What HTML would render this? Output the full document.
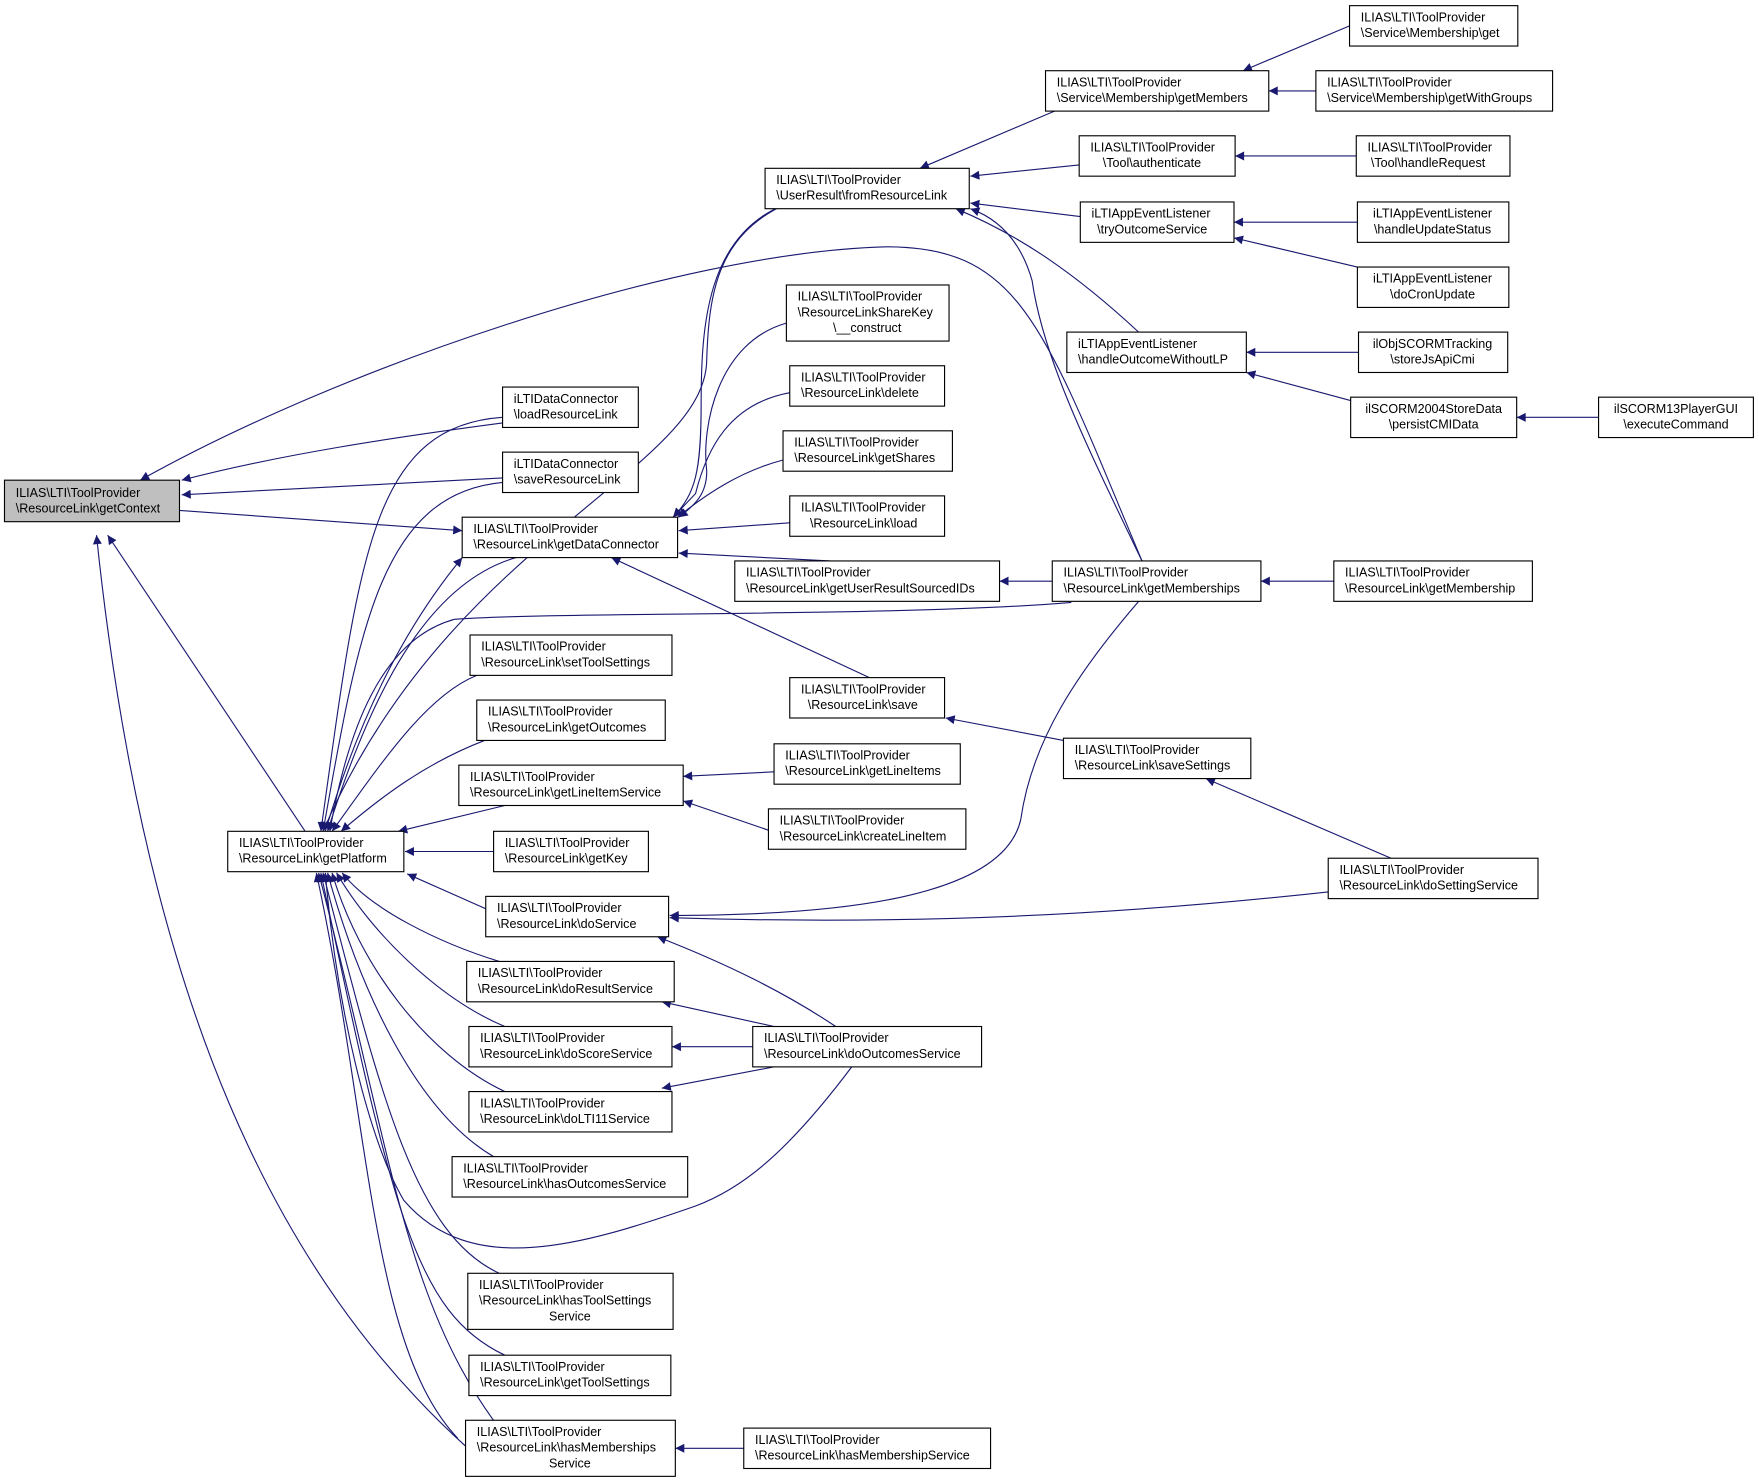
<!DOCTYPE html>
<html><head><meta charset="utf-8"><style>
html,body{margin:0;padding:0;background:#fff;}
svg{display:block}
text{font-family:"Liberation Sans",sans-serif;font-size:11.2px;fill:#000}
.b{fill:#fff;stroke:#000;stroke-width:1}
.e{fill:none;stroke:#191970;stroke-width:1;marker-end:url(#a)}
</style></head><body>
<svg width="1759" height="1482" viewBox="0 0 1568 1321" xmlns="http://www.w3.org/2000/svg">
<defs><marker id="a" viewBox="0 0 10 10" refX="10" refY="5" markerWidth="11" markerHeight="8" markerUnits="userSpaceOnUse" orient="auto"><path d="M0,0L10,5L0,10z" fill="#191970"/></marker></defs>
<!-- edges -->
<g>
<path class="e" d="M1018,500 C930,290 910,220 790,220 C600,225 300,330 125,428"/>
<path class="e" d="M448,377 C350,390 250,405 162,428"/>
<path class="e" d="M448,426 L162,441"/>
<path class="e" d="M160,455 L412,473"/>
<path class="e" d="M272,741 L96,477"/>
<path class="e" d="M416,1290 C250,1140 130,900 86,477"/>
<path class="e" d="M448,372 C330,380 320,500 286,741"/>
<path class="e" d="M448,430 C340,440 320,560 288,741"/>
<path class="e" d="M290,741 C320,640 360,560 412,497"/>
<path class="e" d="M460,497 C380,520 330,620 292,741"/>
<path class="e" d="M955,537 C800,550 500,545 405,552 C340,570 310,650 294,741"/>
<path class="e" d="M425,602 C380,620 340,680 296,741"/>
<path class="e" d="M432,660 C380,680 340,710 304,741"/>
<path class="e" d="M450,718 L355,741"/>
<path class="e" d="M700,182 C640,210 632,260 630,320 C630,420 400,480 288,741"/>
<path class="e" d="M440,759 L361,759"/>
<path class="e" d="M433,810 L363,779"/>
<path class="e" d="M445,857 C390,840 330,810 305,778"/>
<path class="e" d="M450,915 C390,890 330,830 300,778"/>
<path class="e" d="M450,973 C380,940 320,860 296,778"/>
<path class="e" d="M440,1031 C370,990 320,880 292,778"/>
<path class="e" d="M760,950 C700,1030 660,1060 620,1075 C520,1110 420,1140 360,1070 C330,1020 300,900 290,778"/>
<path class="e" d="M445,1135 C370,1100 340,980 288,778"/>
<path class="e" d="M450,1208 C370,1170 350,1080 286,778"/>
<path class="e" d="M456,1287 C360,1170 350,1030 284,778"/>
<path class="e" d="M408,1282 C330,1200 330,1000 282,778"/>
<!-- DC incoming -->
<path class="e" d="M700,182 C630,210 625,290 625,360 C625,420 620,440 600,461"/>
<path class="e" d="M701,288 C640,305 625,380 630,420 C630,440 620,450 605,461"/>
<path class="e" d="M704,350 C650,360 630,400 620,440 L600,461"/>
<path class="e" d="M698,410 C660,420 630,440 604,461"/>
<path class="e" d="M704,466 L605,473"/>
<path class="e" d="M740,500 L605,493"/>
<path class="e" d="M775,604 L545,497"/>
<!-- fromResourceLink incoming -->
<path class="e" d="M940,99 L820,150"/>
<path class="e" d="M962,147 L865,157"/>
<path class="e" d="M963,193 L865,181"/>
<path class="e" d="M1015,296 C960,245 910,210 852,186"/>
<path class="e" d="M1018,500 C970,400 930,320 920,250 C910,215 890,195 865,186"/>
<path class="e" d="M1203,23 L1108,63"/>
<path class="e" d="M1173,81 L1131,81"/>
<path class="e" d="M1209,139 L1101,139"/>
<path class="e" d="M1210,198 L1100,198"/>
<path class="e" d="M1210,238 L1100,212"/>
<path class="e" d="M1211,314 L1111,314"/>
<path class="e" d="M1204,357 L1111,332"/>
<path class="e" d="M1425,372 L1352,372"/>
<path class="e" d="M938,518 L891,518"/>
<path class="e" d="M1189,518 L1124,518"/>
<path class="e" d="M1015,536 C960,600 920,660 910,730 C895,800 750,816 597,816"/>
<path class="e" d="M1184,795 C1000,815 820,825 597,818"/>
<path class="e" d="M948,660 L843,640"/>
<path class="e" d="M1240,765 L1075,694"/>
<path class="e" d="M690,688 L609,692"/>
<path class="e" d="M685,740 L609,714"/>
<path class="e" d="M745,915 C700,885 650,860 586,835"/>
<path class="e" d="M690,915 L590,893"/>
<path class="e" d="M671,933 L599,933"/>
<path class="e" d="M690,951 L590,970"/>
<path class="e" d="M663,1291 L602,1291"/>
</g>
<!-- nodes -->
<g>
<rect x="4" y="428" width="156" height="37" fill="#bfbfbf" stroke="#000"/>
<text x="14" y="443">ILIAS\LTI\ToolProvider</text><text x="14" y="457">\ResourceLink\getContext</text>

<rect class="b" x="203" y="741" width="157" height="36"/>
<text x="213" y="755">ILIAS\LTI\ToolProvider</text><text x="213" y="769">\ResourceLink\getPlatform</text>

<rect class="b" x="448" y="345" width="121" height="36"/>
<text x="458" y="359">iLTIDataConnector</text><text x="458" y="373">\loadResourceLink</text>
<rect class="b" x="448" y="403" width="121" height="36"/>
<text x="458" y="417">iLTIDataConnector</text><text x="458" y="431">\saveResourceLink</text>
<rect class="b" x="412" y="461" width="192" height="36"/>
<text x="422" y="475">ILIAS\LTI\ToolProvider</text><text x="422" y="489">\ResourceLink\getDataConnector</text>
<rect class="b" x="419" y="566" width="180" height="36"/>
<text x="429" y="580">ILIAS\LTI\ToolProvider</text><text x="429" y="594">\ResourceLink\setToolSettings</text>
<rect class="b" x="425" y="624" width="168" height="36"/>
<text x="435" y="638">ILIAS\LTI\ToolProvider</text><text x="435" y="652">\ResourceLink\getOutcomes</text>
<rect class="b" x="409" y="682" width="200" height="36"/>
<text x="419" y="696">ILIAS\LTI\ToolProvider</text><text x="419" y="710">\ResourceLink\getLineItemService</text>
<rect class="b" x="440" y="741" width="138" height="36"/>
<text x="450" y="755">ILIAS\LTI\ToolProvider</text><text x="450" y="769">\ResourceLink\getKey</text>
<rect class="b" x="433" y="799" width="163" height="36"/>
<text x="443" y="813">ILIAS\LTI\ToolProvider</text><text x="443" y="827">\ResourceLink\doService</text>
<rect class="b" x="416" y="857" width="185" height="36"/>
<text x="426" y="871">ILIAS\LTI\ToolProvider</text><text x="426" y="885">\ResourceLink\doResultService</text>
<rect class="b" x="418" y="915" width="181" height="36"/>
<text x="428" y="929">ILIAS\LTI\ToolProvider</text><text x="428" y="943">\ResourceLink\doScoreService</text>
<rect class="b" x="418" y="973" width="181" height="36"/>
<text x="428" y="987">ILIAS\LTI\ToolProvider</text><text x="428" y="1001">\ResourceLink\doLTI11Service</text>
<rect class="b" x="403" y="1031" width="210" height="36"/>
<text x="413" y="1045">ILIAS\LTI\ToolProvider</text><text x="413" y="1059">\ResourceLink\hasOutcomesService</text>
<rect class="b" x="417" y="1135" width="183" height="50"/>
<text x="427" y="1149">ILIAS\LTI\ToolProvider</text><text x="427" y="1163">\ResourceLink\hasToolSettings</text><text x="508" y="1177" text-anchor="middle">Service</text>
<rect class="b" x="418" y="1208" width="180" height="36"/>
<text x="428" y="1222">ILIAS\LTI\ToolProvider</text><text x="428" y="1236">\ResourceLink\getToolSettings</text>
<rect class="b" x="415" y="1266" width="187" height="50"/>
<text x="425" y="1280">ILIAS\LTI\ToolProvider</text><text x="425" y="1294">\ResourceLink\hasMemberships</text><text x="508" y="1308" text-anchor="middle">Service</text>

<rect class="b" x="682" y="150" width="182" height="36"/>
<text x="692" y="164">ILIAS\LTI\ToolProvider</text><text x="692" y="178">\UserResult\fromResourceLink</text>
<rect class="b" x="701" y="254" width="145" height="50"/>
<text x="711" y="268">ILIAS\LTI\ToolProvider</text><text x="711" y="282">\ResourceLinkShareKey</text><text x="773" y="296" text-anchor="middle">\__construct</text>
<rect class="b" x="704" y="326" width="138" height="36"/>
<text x="714" y="340">ILIAS\LTI\ToolProvider</text><text x="714" y="354">\ResourceLink\delete</text>
<rect class="b" x="698" y="384" width="151" height="36"/>
<text x="708" y="398">ILIAS\LTI\ToolProvider</text><text x="708" y="412">\ResourceLink\getShares</text>
<rect class="b" x="704" y="442" width="138" height="36"/>
<text x="714" y="456">ILIAS\LTI\ToolProvider</text><text x="722" y="470">\ResourceLink\load</text>
<rect class="b" x="655" y="500" width="236" height="36"/>
<text x="665" y="514">ILIAS\LTI\ToolProvider</text><text x="665" y="528">\ResourceLink\getUserResultSourcedIDs</text>
<rect class="b" x="704" y="604" width="138" height="36"/>
<text x="714" y="618">ILIAS\LTI\ToolProvider</text><text x="720" y="632">\ResourceLink\save</text>
<rect class="b" x="690" y="663" width="166" height="36"/>
<text x="700" y="677">ILIAS\LTI\ToolProvider</text><text x="700" y="691">\ResourceLink\getLineItems</text>
<rect class="b" x="685" y="721" width="176" height="36"/>
<text x="695" y="735">ILIAS\LTI\ToolProvider</text><text x="695" y="749">\ResourceLink\createLineItem</text>
<rect class="b" x="671" y="915" width="204" height="36"/>
<text x="681" y="929">ILIAS\LTI\ToolProvider</text><text x="681" y="943">\ResourceLink\doOutcomesService</text>
<rect class="b" x="663" y="1273" width="220" height="36"/>
<text x="673" y="1287">ILIAS\LTI\ToolProvider</text><text x="673" y="1301">\ResourceLink\hasMembershipService</text>

<rect class="b" x="932" y="63" width="199" height="36"/>
<text x="942" y="77">ILIAS\LTI\ToolProvider</text><text x="942" y="91">\Service\Membership\getMembers</text>
<rect class="b" x="962" y="121" width="139" height="36"/>
<text x="972" y="135">ILIAS\LTI\ToolProvider</text><text x="983" y="149">\Tool\authenticate</text>
<rect class="b" x="963" y="180" width="137" height="36"/>
<text x="973" y="194">iLTIAppEventListener</text><text x="978" y="208">\tryOutcomeService</text>
<rect class="b" x="951" y="296" width="160" height="36"/>
<text x="961" y="310">iLTIAppEventListener</text><text x="961" y="324">\handleOutcomeWithoutLP</text>
<rect class="b" x="938" y="500" width="186" height="36"/>
<text x="948" y="514">ILIAS\LTI\ToolProvider</text><text x="948" y="528">\ResourceLink\getMemberships</text>
<rect class="b" x="948" y="658" width="167" height="36"/>
<text x="958" y="672">ILIAS\LTI\ToolProvider</text><text x="958" y="686">\ResourceLink\saveSettings</text>

<rect class="b" x="1203" y="5" width="150" height="36"/>
<text x="1213" y="19">ILIAS\LTI\ToolProvider</text><text x="1213" y="33">\Service\Membership\get</text>
<rect class="b" x="1173" y="63" width="211" height="36"/>
<text x="1183" y="77">ILIAS\LTI\ToolProvider</text><text x="1183" y="91">\Service\Membership\getWithGroups</text>
<rect class="b" x="1209" y="121" width="137" height="36"/>
<text x="1219" y="135">ILIAS\LTI\ToolProvider</text><text x="1222" y="149">\Tool\handleRequest</text>
<rect class="b" x="1210" y="180" width="135" height="36"/>
<text x="1277" y="194" text-anchor="middle">iLTIAppEventListener</text><text x="1277" y="208" text-anchor="middle">\handleUpdateStatus</text>
<rect class="b" x="1210" y="238" width="135" height="36"/>
<text x="1277" y="252" text-anchor="middle">iLTIAppEventListener</text><text x="1277" y="266" text-anchor="middle">\doCronUpdate</text>
<rect class="b" x="1211" y="296" width="133" height="36"/>
<text x="1277" y="310" text-anchor="middle">ilObjSCORMTracking</text><text x="1277" y="324" text-anchor="middle">\storeJsApiCmi</text>
<rect class="b" x="1204" y="354" width="148" height="36"/>
<text x="1278" y="368" text-anchor="middle">ilSCORM2004StoreData</text><text x="1278" y="382" text-anchor="middle">\persistCMIData</text>
<rect class="b" x="1425" y="354" width="138" height="36"/>
<text x="1494" y="368" text-anchor="middle">ilSCORM13PlayerGUI</text><text x="1494" y="382" text-anchor="middle">\executeCommand</text>
<rect class="b" x="1189" y="500" width="177" height="36"/>
<text x="1199" y="514">ILIAS\LTI\ToolProvider</text><text x="1199" y="528">\ResourceLink\getMembership</text>
<rect class="b" x="1184" y="765" width="187" height="36"/>
<text x="1194" y="779">ILIAS\LTI\ToolProvider</text><text x="1194" y="793">\ResourceLink\doSettingService</text>
</g>
</svg>
</body></html>
